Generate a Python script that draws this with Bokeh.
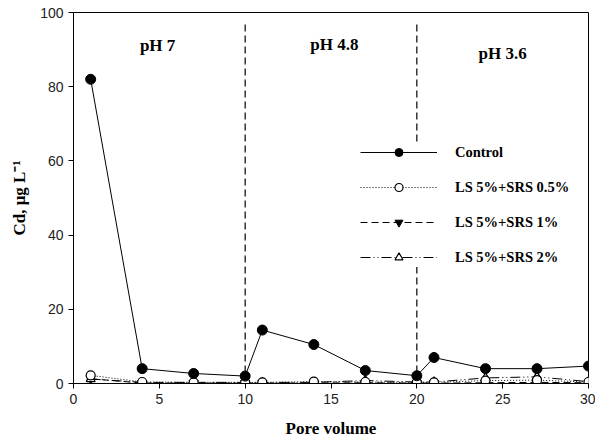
from bokeh.plotting import figure
from bokeh.models import Legend, LegendItem, Label, Range1d, FixedTicker
from bokeh.embed import file_html
from bokeh.resources import INLINE

pore_volume = [1, 4, 7, 10, 11, 14, 17, 20, 21, 24, 27, 30]
control = [82, 4.0, 2.7, 2.0, 14.4, 10.5, 3.5, 2.1, 7.0, 4.0, 4.0, 4.7]
ls_srs_05 = [2.2, 0.4, 0.3, 0.3, 0.3, 0.5, 0.4, 0.3, 0.3, 0.8, 0.9, 0.4]
ls_srs_1 = [1.3, 0.1, 0.1, 0.1, 0.1, 0.1, 0.2, 0.1, 0.1, 0.2, 0.3, 0.2]
ls_srs_2 = [1.2, 0.3, 0.3, 0.3, 0.3, 0.3, 0.8, 0.4, 0.4, 1.5, 1.8, 0.5]
series_names = ["Control", "LS 5%+SRS 0.5%", "LS 5%+SRS 1%", "LS 5%+SRS 2%"]
phase_bounds = [10, 20]
phase_labels = ["pH 7", "pH 4.8", "pH 3.6"]
phase_label_x = [4.9, 15.2, 25.0]
phase_label_y = [91.0, 91.4, 89.0]
x_ticks = [0, 5, 10, 15, 20, 25, 30]
y_ticks = [0, 20, 40, 60, 80, 100]

SERIF = "Liberation Serif"
SANS = "Liberation Sans"

p = figure(frame_width=515, frame_height=371, output_backend="svg",
           toolbar_location=None, x_range=Range1d(0, 30), y_range=Range1d(0, 100),
           min_border_left=73, min_border_right=7, min_border_top=12, min_border_bottom=59)
p.grid.visible = False
p.outline_line_color = "black"
p.outline_line_width = 1
p.background_fill_color = "white"
p.border_fill_color = "white"

for ax in (p.xaxis, p.yaxis):
    ax.major_tick_in = 0
    ax.major_tick_out = 5
    ax.minor_tick_line_color = None
    ax.axis_line_color = "black"
    ax.major_tick_line_color = "black"
    ax.major_label_text_font = SANS
    ax.major_label_text_font_size = "14px"
    ax.major_label_text_color = "#222222"
    ax.axis_label_text_font = SERIF
    ax.axis_label_text_font_style = "bold"
    ax.axis_label_text_font_size = "17px"
    ax.axis_label_text_color = "black"
p.xaxis.ticker = FixedTicker(ticks=x_ticks)
p.yaxis.ticker = FixedTicker(ticks=y_ticks)
p.xaxis.axis_label = "Pore volume"
p.yaxis.axis_label = "Cd, μg L⁻¹"
p.xaxis.axis_label_standoff = 12
p.yaxis.axis_label_standoff = 8

# phase boundaries
p.segment(x0=phase_bounds, x1=phase_bounds, y0=[0, 0], y1=[97, 97],
          line_color="black", line_width=1.2, line_dash="7 4")

# series
l1 = p.line(pore_volume, ls_srs_1, line_color="black", line_width=1, line_dash="7 4")
m1 = p.scatter(pore_volume, ls_srs_1, marker="inverted_triangle", size=9,
               fill_color="black", line_color="black")
l2 = p.line(pore_volume, ls_srs_2, line_color="black", line_width=1, line_dash="10 3 1 3 1 3")
m2 = p.scatter(pore_volume, ls_srs_2, marker="triangle", size=9,
               fill_color="white", line_color="black", line_width=1.2)
l05 = p.line(pore_volume, ls_srs_05, line_color="black", line_width=1, line_dash="1 2")
m05 = p.scatter(pore_volume, ls_srs_05, marker="circle", size=9,
                fill_color="white", line_color="black", line_width=1.2)
lc = p.line(pore_volume, control, line_color="black", line_width=1)
mc = p.scatter(pore_volume, control, marker="circle", size=10,
               fill_color="black", line_color="black")

for name, xx, yy in zip(phase_labels, phase_label_x, phase_label_y):
    p.add_layout(Label(x=xx, y=yy, text=name, text_font=SERIF, text_font_style="bold",
                       text_font_size="17px", text_align="center", text_baseline="middle",
                       text_color="black"))

legend = Legend(items=[
    LegendItem(label=series_names[0], renderers=[lc, mc]),
    LegendItem(label=series_names[1], renderers=[l05, m05]),
    LegendItem(label=series_names[2], renderers=[l1, m1]),
    LegendItem(label=series_names[3], renderers=[l2, m2]),
], location=(287, 116))
legend.glyph_width = 77
legend.glyph_height = 20
legend.label_height = 20
legend.spacing = 15
legend.padding = 0
legend.margin = 0
legend.label_standoff = 18
legend.border_line_color = None
legend.background_fill_color = "white"
legend.background_fill_alpha = 1.0
legend.label_text_font = SERIF
legend.label_text_font_style = "bold"
legend.label_text_font_size = "14.5px"
legend.label_text_color = "black"
p.add_layout(legend)

open("out.html", "w").write(file_html(p, INLINE))
